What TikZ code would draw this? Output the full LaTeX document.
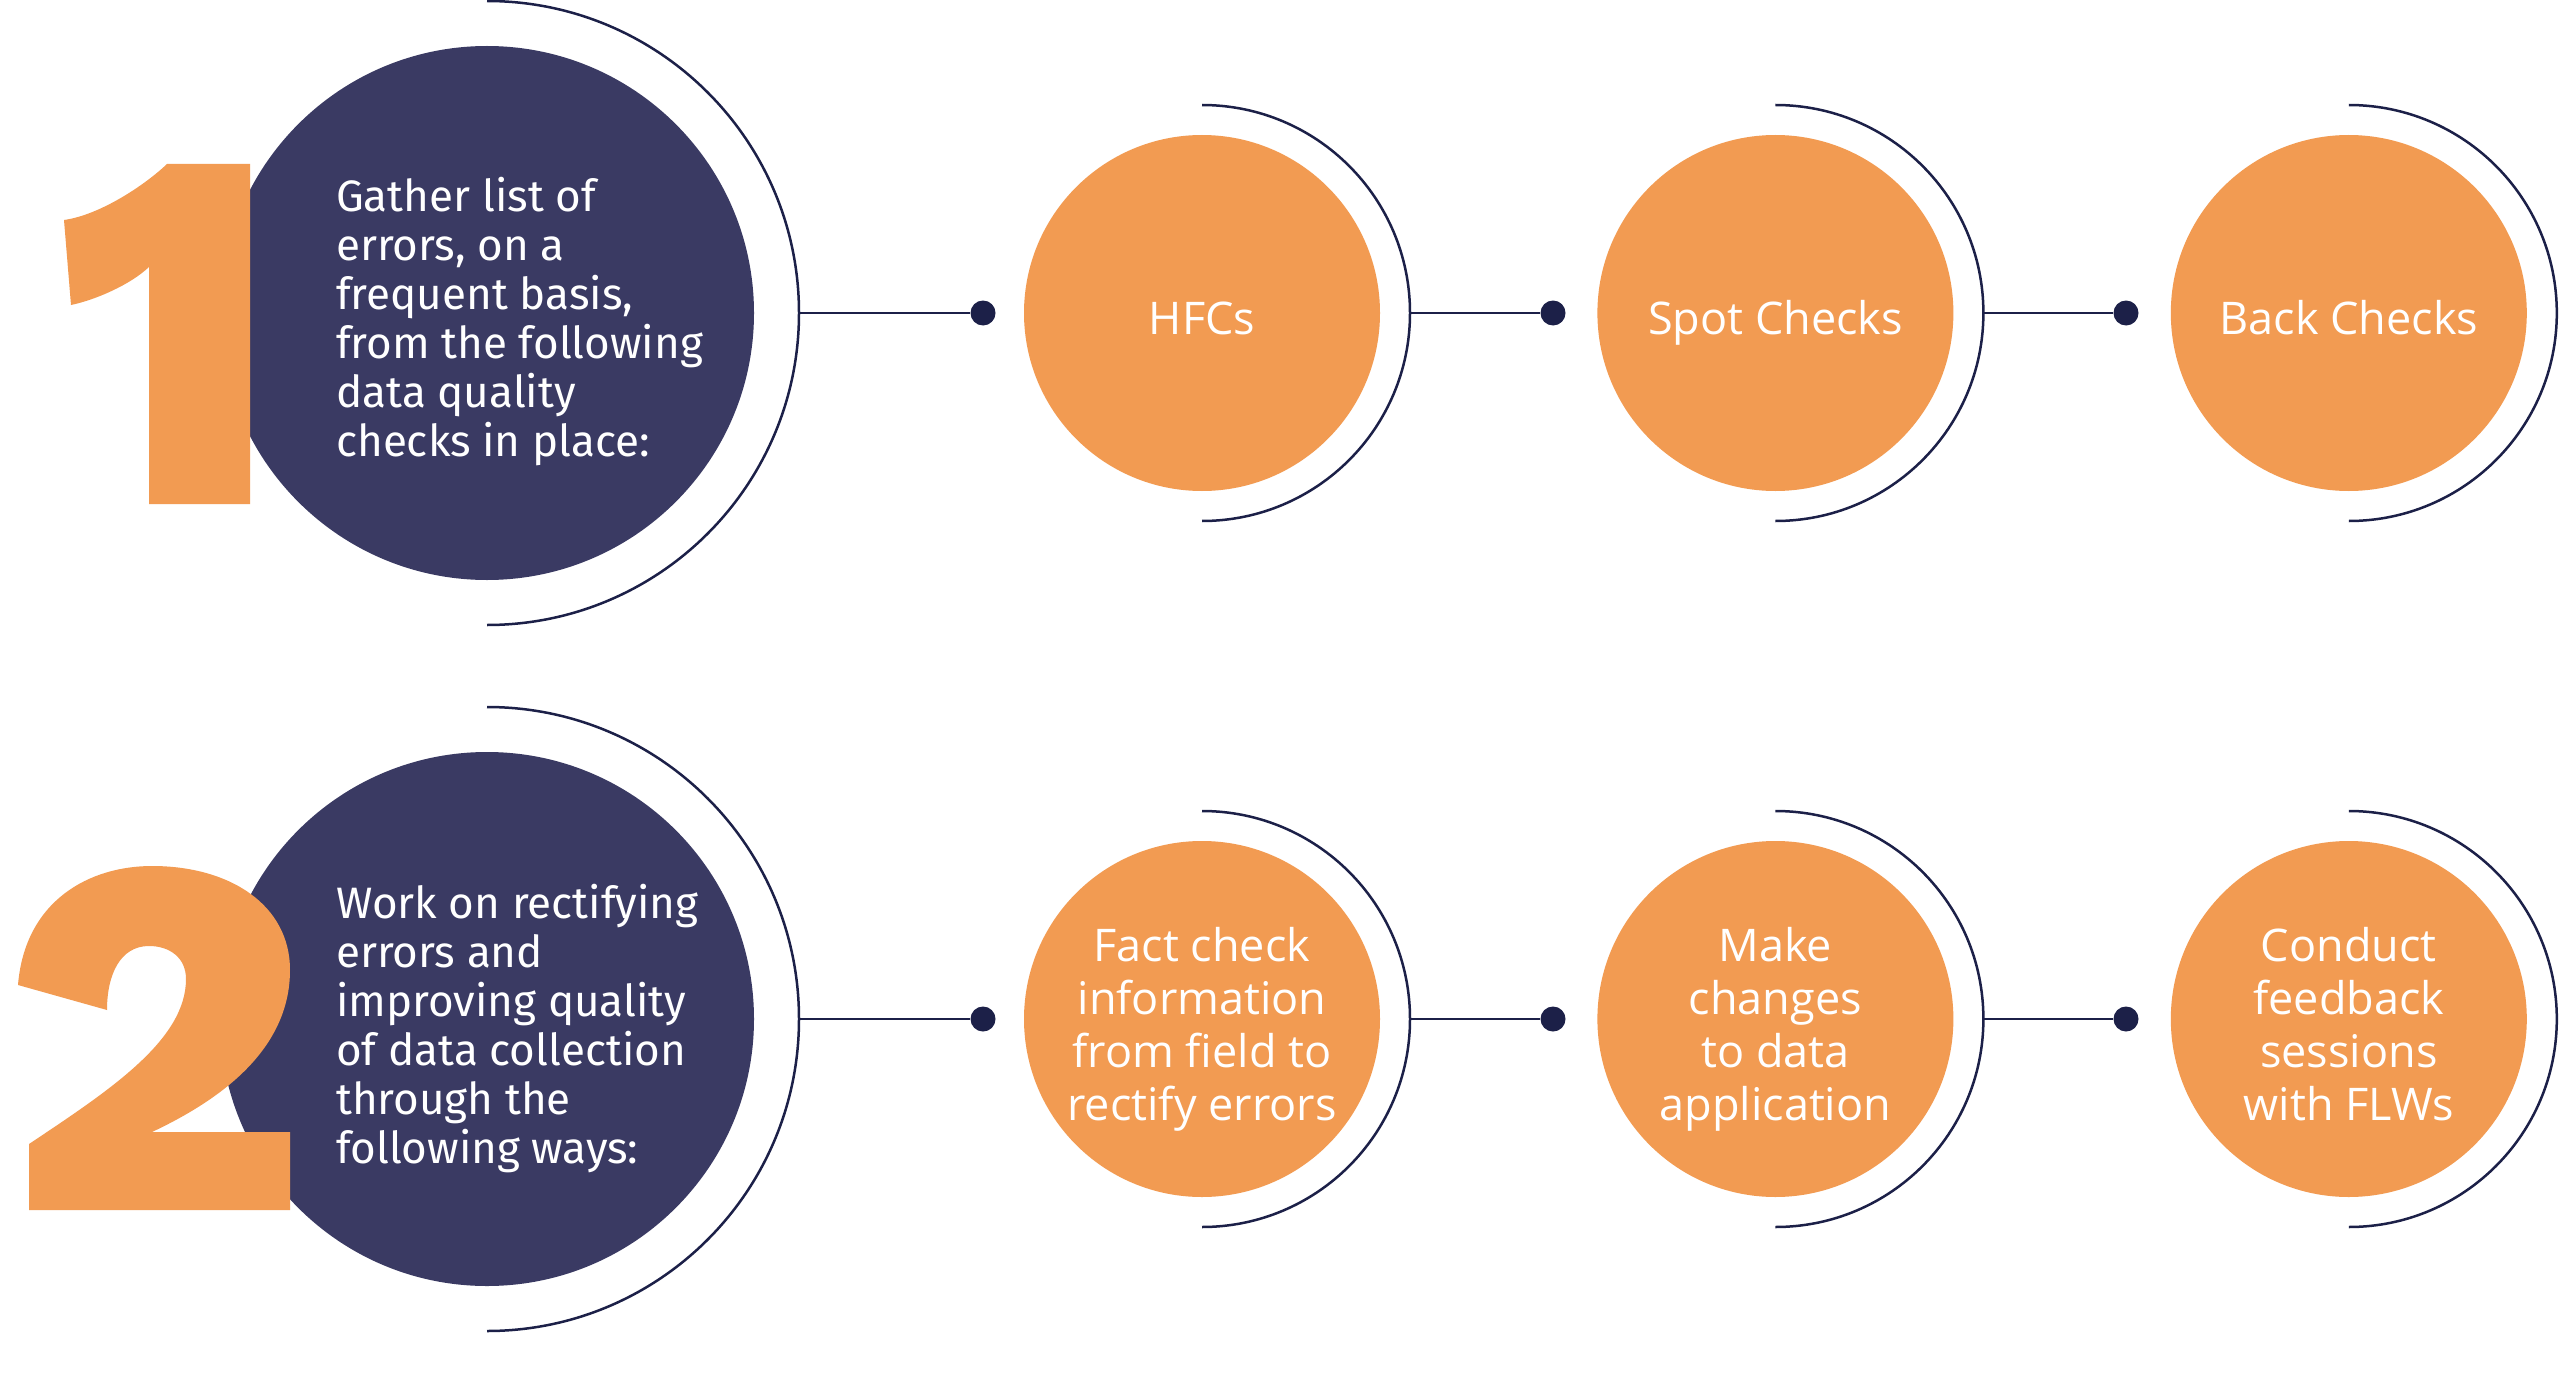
\documentclass[tikz,border=0pt]{standalone}
\usepackage{fontspec}
\setmainfont{Fira Sans}
\newfontfamily\stepfont{Open Sans}
\usetikzlibrary{positioning}
\definecolor{navy}{HTML}{3A3A63}
\definecolor{ink}{HTML}{1C2048}
\definecolor{peach}{HTML}{F29B52}
\newcommand{\lowered}[1]{\raisebox{-11pt}[\height][\depth]{\begin{tabular}{@{}c@{}}#1\end{tabular}}}

\begin{document}
\begin{tikzpicture}[x=1pt,y=-1pt,
  big/.style={circle,fill=navy,minimum size=534pt,inner sep=0pt},
  small/.style={circle,fill=peach,minimum size=356pt,inner sep=0pt,text=white,align=center,font=\stepfont\fontsize{45}{53}\selectfont},
  lead/.style={text=white,align=left,anchor=west,inner sep=0pt,font=\fontsize{44}{49}\selectfont},
  ring/.style={draw=ink,line width=2.5pt},
  link/.style={draw=ink,line width=2pt},
  dot/.style={circle,fill=ink,minimum size=25pt,inner sep=0pt}]
\useasboundingbox (0,0) rectangle (2560,1383);
\fill[white] (0,0) rectangle (2560,1383);

% first row
\node[big] (B1) at (487,313) {};
\draw[ring] (487,1) arc[start angle=-90,end angle=90,radius=312];
\coordinate (R1) at (799,313);
\fill[peach] (167,164) .. controls (145,185) and (100,215) .. (64,220)
  -- (71,305) .. controls (95,300) and (130,285) .. (149,267)
  -- (149,504) -- (250,504) -- (250,164) -- cycle;
\node[lead] (L1) at (336,322) {Gather list of\\errors, on a\\frequent basis,\\from the following\\data quality\\checks in place:};
\node[dot] (D11) at (983,313) {};
\node[small] (S11) at (1202,313) {\lowered{HFCs}};
\node[dot] (D12) at (1553,313) {};
\node[small,right=217pt of S11] (S12) {\lowered{Spot Checks}};
\node[dot] (D13) at (2126,313) {};
\node[small,right=217pt of S12] (S13) {\lowered{Back Checks}};
\foreach \s in {S11,S12,S13}{
  \draw[ring] ([yshift=208pt]\s.center) arc[start angle=-90,end angle=90,radius=208];
  \coordinate (\s r) at ([xshift=208pt]\s.center);
}
\path[link] (R1) -- (D11);
\path[link] (S11r) -- (D12);
\path[link] (S12r) -- (D13);

% second row
\node[big] (B2) at (487,1019) {};
\draw[ring] (487,707) arc[start angle=-90,end angle=90,radius=312];
\coordinate (R2) at (799,1019);
\fill[peach] (18,985) .. controls (25,900) and (90,866) .. (152,866)
  .. controls (230,866) and (290,905) .. (290,970)
  .. controls (290,1050) and (220,1100) .. (152,1132)
  -- (290,1132) -- (290,1210) -- (29,1210) -- (29,1144)
  .. controls (110,1090) and (186,1040) .. (186,979)
  .. controls (186,958) and (170,946) .. (149,946)
  .. controls (120,946) and (107,975) .. (107,1010) -- cycle;
\node[lead] (L2) at (336,1029) {Work on rectifying\\errors and\\improving quality\\of data collection\\through the\\following ways:};
\node[dot] (D21) at (983,1019) {};
\node[small] (S21) at (1202,1019) {\lowered{Fact check\\information\\from field to\\rectify errors}};
\node[dot] (D22) at (1553,1019) {};
\node[small,right=217pt of S21] (S22) {\lowered{Make\\changes\\to data\\application}};
\node[dot] (D23) at (2126,1019) {};
\node[small,right=217pt of S22] (S23) {\lowered{Conduct\\feedback\\sessions\\with FLWs}};
\foreach \s in {S21,S22,S23}{
  \draw[ring] ([yshift=208pt]\s.center) arc[start angle=-90,end angle=90,radius=208];
  \coordinate (\s r) at ([xshift=208pt]\s.center);
}
\path[link] (R2) -- (D21);
\path[link] (S21r) -- (D22);
\path[link] (S22r) -- (D23);
\end{tikzpicture}
\end{document}
